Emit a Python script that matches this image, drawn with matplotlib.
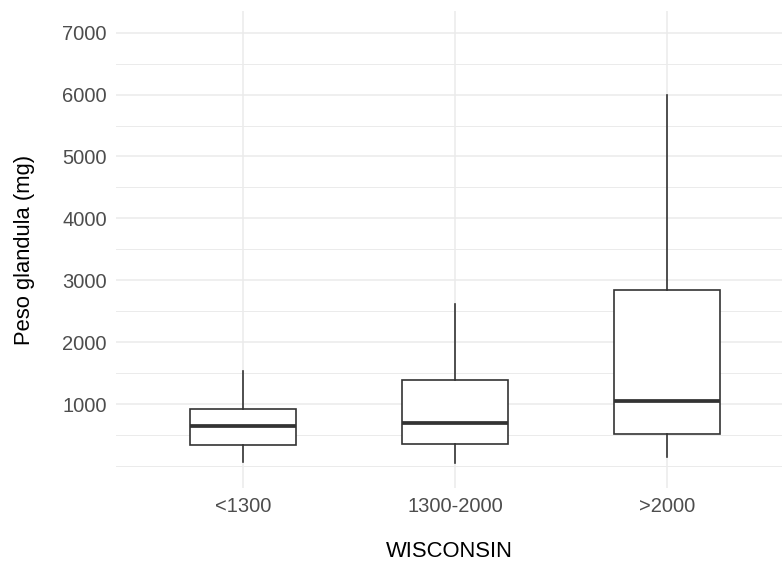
import numpy as np
import matplotlib.pyplot as plt

plt.rcParams['font.family'] = ['Liberation Sans', 'DejaVu Sans']

# grupos e estatisticas (mg)
grupos = ['<1300', '1300-2000', '>2000']
whis_inf = [70, 50, 140]
q1 = [335, 355, 522]
mediana = [645, 690, 1050]
q3 = [915, 1395, 2840]
whis_sup = [1535, 2617, 5995]

yticks = [1000, 2000, 3000, 4000, 5000, 6000, 7000]
yminor = [0, 500, 1500, 2500, 3500, 4500, 5500, 6500]

stats = []
for i in range(len(grupos)):
    stats.append({'whislo': whis_inf[i], 'q1': q1[i], 'med': mediana[i],
                  'q3': q3[i], 'whishi': whis_sup[i], 'fliers': []})

fig = plt.figure(figsize=(7.82, 5.65), dpi=100)
ax = fig.add_axes([116/782, 77/565, 666/782, 477/565])

linha = '#333333'
pos = np.arange(1, len(grupos) + 1)
ax.bxp(stats, positions=pos, widths=0.5, showcaps=False, patch_artist=True,
       boxprops=dict(facecolor='white', edgecolor=linha, linewidth=1.2),
       whiskerprops=dict(color=linha, linewidth=1.2),
       medianprops=dict(color=linha, linewidth=2.7, solid_capstyle='butt'),
       zorder=3)

ax.set_xlim(0.4, 3.54)
ax.set_ylim(-355, 7350)
ax.set_xticks(pos)
ax.set_xticklabels(grupos)
ax.set_yticks(yticks)
ax.set_yticklabels([str(v) for v in yticks])
ax.set_yticks(yminor, minor=True)

ax.grid(True, which='major', color='#EBEBEB', linewidth=1.1, zorder=0)
ax.grid(True, which='minor', axis='y', color='#EBEBEB', linewidth=0.7, zorder=0)
ax.set_axisbelow(True)
for s in ax.spines.values():
    s.set_visible(False)
ax.tick_params(which='both', length=0)
ax.tick_params(axis='both', labelsize=14.5, labelcolor='#4D4D4D', pad=6.5)

ax.set_xlabel('WISCONSIN', fontsize=15.8, color='black', labelpad=18)
ax.set_ylabel('Peso glandula (mg)', fontsize=15.8, color='black', labelpad=20)

fig.savefig('out.png', dpi=100)
